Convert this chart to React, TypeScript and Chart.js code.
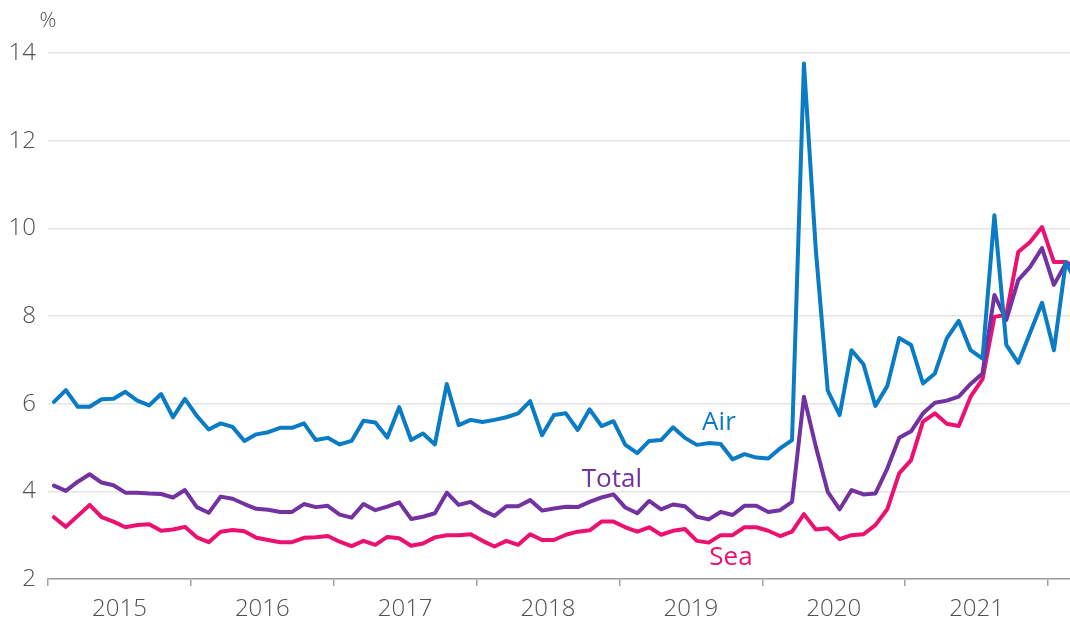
import React, { useEffect, useRef } from "react";
import { Chart, registerables } from "chart.js";

Chart.register(...registerables);

// Monthly series, Jan 2015 onward (index 0 = Jan 2015)
const AIR = [
  6.04, 6.31, 5.93, 5.93, 6.1, 6.11, 6.27, 6.07, 5.96, 6.22, 5.69, 6.11,
  5.72, 5.41, 5.55, 5.47, 5.15, 5.3, 5.35, 5.45, 5.45, 5.55, 5.17, 5.22,
  5.07, 5.15, 5.61, 5.57, 5.23, 5.92, 5.17, 5.32, 5.07, 6.45, 5.51, 5.63,
  5.58, 5.63, 5.69, 5.78, 6.06, 5.28, 5.74, 5.78, 5.4, 5.87, 5.49, 5.6,
  5.06, 4.87, 5.15, 5.17, 5.46, 5.22, 5.06, 5.1, 5.08, 4.73, 4.85, 4.77,
  4.75, 4.98, 5.17, 13.76, 9.5, 6.3, 5.74, 7.22, 6.9, 5.95, 6.4, 7.5,
  7.34, 6.46, 6.69, 7.49, 7.89, 7.22, 7.03, 10.3, 7.34, 6.93, 7.62, 8.3,
  7.22, 9.23, 8.7,
];
const TOTAL = [
  4.13, 4.01, 4.22, 4.39, 4.2, 4.14, 3.97, 3.97, 3.95, 3.94, 3.86, 4.03,
  3.64, 3.51, 3.88, 3.83, 3.71, 3.6, 3.58, 3.53, 3.53, 3.71, 3.64, 3.67,
  3.47, 3.4, 3.71, 3.57, 3.65, 3.75, 3.37, 3.42, 3.5, 3.97, 3.69, 3.76,
  3.57, 3.44, 3.66, 3.66, 3.8, 3.56, 3.61, 3.65, 3.64, 3.76, 3.86, 3.93,
  3.63, 3.5, 3.78, 3.59, 3.7, 3.66, 3.42, 3.36, 3.53, 3.46, 3.67, 3.67,
  3.53, 3.57, 3.76, 6.16, 5.02, 3.99, 3.59, 4.03, 3.93, 3.95, 4.52, 5.22,
  5.37, 5.78, 6.02, 6.07, 6.16, 6.45, 6.69, 8.48, 7.91, 8.82, 9.12, 9.55,
  8.71, 9.2, 8.8,
];
const SEA = [
  3.41, 3.19, 3.44, 3.69, 3.41, 3.31, 3.18, 3.23, 3.25, 3.1, 3.13, 3.19,
  2.95, 2.84, 3.08, 3.12, 3.09, 2.94, 2.89, 2.84, 2.84, 2.94, 2.95, 2.98,
  2.85, 2.75, 2.87, 2.78, 2.96, 2.93, 2.76, 2.81, 2.95, 3.0, 3.0, 3.02,
  2.87, 2.74, 2.87, 2.78, 3.02, 2.89, 2.89, 3.01, 3.08, 3.11, 3.31, 3.31,
  3.18, 3.08, 3.18, 3.01, 3.1, 3.14, 2.87, 2.83, 3.0, 3.0, 3.18, 3.18,
  3.1, 2.98, 3.08, 3.48, 3.13, 3.16, 2.91, 3.0, 3.02, 3.23, 3.59, 4.41,
  4.71, 5.59, 5.78, 5.54, 5.49, 6.16, 6.56, 7.98, 8.03, 9.46, 9.69, 10.03,
  9.23, 9.23, 9.1,
];
const YEARS = ["2015", "2016", "2017", "2018", "2019", "2020", "2021"];
const Y_TICKS = [2, 4, 6, 8, 10, 12, 14];

const BLUE = "#0a7bc5";
const PURPLE = "#7232a0";
const PINK = "#ec1170";
const GREY_TEXT = "#505050";
const FONT = '"Open Sans", "Noto Sans", sans-serif';

// series name labels, anchored in data units (month, value)
const SERIES_LABELS = [
  { text: "Air", color: BLUE, month: 56.36, value: 5.56 },
  { text: "Total", color: PURPLE, month: 47.37, value: 4.26 },
  { text: "Sea", color: PINK, month: 57.37, value: 2.48 },
];

const toPoints = (arr: number[]) => arr.map((v, i) => ({ x: i + 0.5, y: v }));

const annotPlugin = {
  id: "annot",
  afterDatasetsDraw(chart: any) {
    const { ctx, scales, chartArea } = chart;
    const xs = scales.x;
    const ys = scales.y;
    ctx.save();
    ctx.textAlign = "center";
    ctx.textBaseline = "middle";
    ctx.font = `400 26px ${FONT}`;
    for (const l of SERIES_LABELS) {
      ctx.fillStyle = l.color;
      ctx.fillText(l.text, xs.getPixelForValue(l.month), ys.getPixelForValue(l.value));
    }
    ctx.fillStyle = GREY_TEXT;
    ctx.font = `300 21px ${FONT}`;
    ctx.fillText("%", chartArea.left, chartArea.top - 32);
    ctx.restore();
  },
};

export default function App() {
  const ref = useRef<HTMLCanvasElement | null>(null);
  useEffect(() => {
    if (!ref.current) return;
    const lineDs = (label: string, data: number[], color: string) => ({
      label,
      data: toPoints(data),
      borderColor: color,
      backgroundColor: color,
      borderWidth: 4,
      pointRadius: 0,
      pointHoverRadius: 0,
      tension: 0,
      fill: false,
      borderJoinStyle: "round" as const,
      borderCapStyle: "round" as const,
    });
    const chart = new Chart(ref.current, {
      type: "line",
      data: {
        datasets: [
          lineDs("Air", AIR, BLUE),
          lineDs("Total", TOTAL, PURPLE),
          lineDs("Sea", SEA, PINK),
        ],
      },
      options: {
        responsive: false,
        animation: false,
        devicePixelRatio: 1,
        layout: { padding: { top: 53, right: 0, left: 0, bottom: 0 } },
        plugins: {
          legend: { display: false },
          tooltip: { enabled: false },
        },
        scales: {
          x: {
            type: "linear",
            min: 0,
            max: 85.85,
            afterBuildTicks: (s: any) => {
              const t = [];
              for (let v = 0; v <= 84; v += 6) t.push({ value: v });
              s.ticks = t;
            },
            afterFit: (s: any) => {
              s.height = 43;
            },
            ticks: {
              autoSkip: false,
              maxRotation: 0,
              minRotation: 0,
              padding: 9,
              color: GREY_TEXT,
              font: { family: FONT, size: 24, weight: "300" },
              callback: (v: any) => {
                const n = Number(v);
                if (n % 12 === 6) return YEARS[(n - 6) / 12] ?? "";
                return "";
              },
            },
            grid: {
              display: true,
              drawOnChartArea: false,
              drawTicks: true,
              tickLength: 7,
              lineWidth: 1.5,
              tickWidth: 1.5,
              tickColor: (c: any) =>
                c.tick && c.tick.value % 12 === 0 ? "#a0a0a0" : "rgba(0,0,0,0)",
              color: "rgba(0,0,0,0)",
            },
            border: { display: true, color: "#a0a0a0", width: 1.5 },
          },
          y: {
            type: "linear",
            min: 2,
            max: 14,
            afterBuildTicks: (s: any) => {
              s.ticks = Y_TICKS.map((v) => ({ value: v }));
            },
            afterFit: (s: any) => {
              s.width = 48;
            },
            ticks: {
              padding: 12,
              color: GREY_TEXT,
              font: { family: FONT, size: 24, weight: "300" },
            },
            grid: {
              color: "#e4e4e4",
              lineWidth: 1.5,
              drawTicks: false,
            },
            border: { display: false },
          },
        },
      },
      plugins: [annotPlugin],
    });
    return () => chart.destroy();
  }, []);
  return (
    <div style={{ position: "fixed", left: 0, top: 0, width: 1070, height: 622, background: "#fff" }}>
      <canvas ref={ref} width={1070} height={622} style={{ display: "block" }} />
    </div>
  );
}
